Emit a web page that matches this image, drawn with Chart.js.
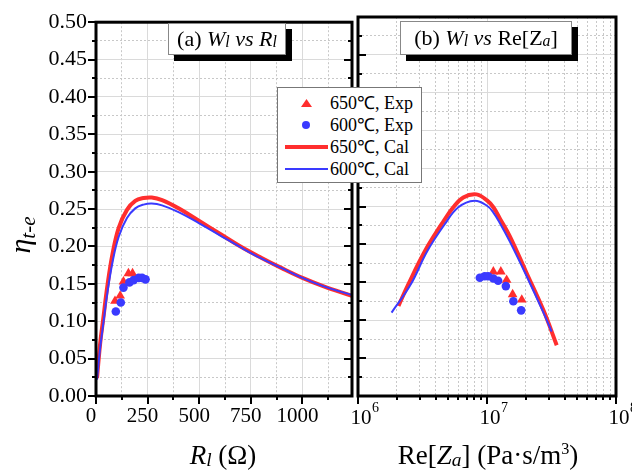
<!DOCTYPE html>
<html>
<head>
<meta charset="utf-8">
<script src="https://cdn.jsdelivr.net/npm/chart.js@4"></script>
<style>
  html, body { margin: 0; padding: 0; background: #fff; }
  #wrap { position: relative; width: 632px; height: 473px; overflow: hidden;
          font-family: "Liberation Serif", "Times New Roman", serif; color: #000; }
  canvas { position: absolute; left: 0; top: 0; }
  .tag { position: absolute; background: #fff; border: 1px solid #888; box-shadow: 6px 6px 0 #000;
         font-size: 22px; text-align: center; white-space: nowrap; }
  .sb { font-size: 0.72em; vertical-align: -0.08em; }
  .axt { position: absolute; font-size: 27px; line-height: 27px; text-align: center; white-space: nowrap; }
  .axt sup { font-size: 0.6em; line-height: 0; vertical-align: 0.6em; }
  #ylab { position: absolute; left: -10px; top: 215px; width: 60px; height: 40px; line-height: 40px;
          text-align: center; transform: rotate(-90deg); white-space: nowrap; }
  #legend { position: absolute; left: 277px; top: 87px; width: 145px; height: 96px; background: #fff;
            border: 1px solid #777; box-sizing: border-box; }
  #legend .row { position: absolute; left: 0; height: 22px; width: 100%; }
  #legend .lbl { position: absolute; left: 52px; top: 0; font-size: 18px; line-height: 22px; white-space: nowrap; }
  #legend .sym { position: absolute; }
</style>
</head>
<body>
<div id="wrap">
  <canvas id="panelA" width="632" height="473"></canvas>
  <canvas id="panelB" width="632" height="473"></canvas>

  <div class="tag" style="left:168px; top:23px; width:116px; height:30px; line-height:30px;">(a) <i>W<span class="sb">l</span></i> <i>vs</i> <i>R<span class="sb">l</span></i></div>
  <div class="tag" style="left:400px; top:21px; width:170px; height:32px; line-height:32px;">(b) <i>W<span class="sb">l</span></i> <i>vs</i> Re[Z<i class="sb">a</i>]</div>

  <div id="legend"></div>

  <div id="ylab"><i style="font-size:30px">η</i><i style="font-size:21px; vertical-align:-0.25em">t-e</i></div>
  <div class="axt" style="left:123px; top:442px; width:200px;"><i>R</i><i class="sb">l</i> (Ω)</div>
  <div class="axt" style="left:388px; top:442px; width:200px;">Re[<i>Z</i><i class="sb">a</i>] (Pa·s/m<sup>3</sup>)</div>
</div>

<script>
// efficiency eta_t-e against load resistance R_l (ohm)
const calR = [5, 20, 35, 55, 80, 110, 150, 190, 230, 270, 320, 400, 500, 600, 700, 800, 900, 1000, 1100, 1240];
const calEtaR650 = [0.024, 0.070, 0.103, 0.147, 0.190, 0.225, 0.249, 0.261, 0.2648, 0.2655, 0.262, 0.251, 0.234, 0.217, 0.200, 0.185, 0.171, 0.158, 0.147, 0.134];
const calEtaR600 = [0.022, 0.064, 0.096, 0.138, 0.179, 0.213, 0.238, 0.251, 0.256, 0.2575, 0.255, 0.246, 0.231, 0.215, 0.199, 0.184, 0.171, 0.158, 0.147, 0.135];

// efficiency against real part of acoustic impedance Re[Za] (Pa s/m^3)
const calZ650 = [2.06e6, 2.45e6, 3.3e6, 4.46e6, 5.48e6, 6.55e6, 8.3e6, 1.0e7, 1.12e7, 1.26e7, 1.5e7, 2.03e7, 2.74e7, 3.47e7];
const calEtaZ650 = [0.119, 0.147, 0.191, 0.227, 0.249, 0.262, 0.266, 0.258, 0.249, 0.234, 0.211, 0.162, 0.113, 0.067];
const calZ600 = [1.82e6, 2.56e6, 3.44e6, 4.72e6, 6.0e6, 8.0e6, 1.0e7, 1.12e7, 1.26e7, 1.5e7, 2.03e7, 2.74e7, 3.17e7];
const calEtaZ600 = [0.110, 0.147, 0.191, 0.227, 0.249, 0.2575, 0.251, 0.242, 0.228, 0.204, 0.158, 0.110, 0.085];

// measured points
const expR650 = [92, 117, 133, 157, 177];
const expZ650 = [1.86e7, 1.58e7, 1.42e7, 1.28e7, 1.12e7];
const expEta650 = [0.127, 0.134, 0.153, 0.164, 0.164];
const expR600 = [96, 120, 133, 162, 182, 207, 223, 240];
const expZ600 = [1.84e7, 1.60e7, 1.40e7, 1.22e7, 1.12e7, 1.02e7, 9.6e6, 8.8e6];
const expEta600 = [0.113, 0.125, 0.145, 0.152, 0.155, 0.158, 0.158, 0.156];

const seriesNames = ['650℃, Exp', '600℃, Exp', '650℃, Cal', '600℃, Cal'];
const RED = '#ff2e2e';
const BLUE = '#3a3aff';

// axis ticks
const etaTicks = [];
for (let k = 0; k <= 20; k++) etaTicks.push(k * 0.025);
const rTicks = [0, 125, 250, 375, 500, 625, 750, 875, 1000, 1125];
const zTicks = [];
for (const d of [1e6, 1e7]) for (let m = 1; m <= 9; m++) zTicks.push(m * d);
zTicks.push(1e8);

const SERIF = '"Liberation Serif", "Times New Roman", serif';
const isMajorEta = v => Math.round(v * 1000) % 50 === 0;
const isMajorR = v => v % 250 === 0;
const isMajorZ = v => Math.abs(Math.log10(v) - Math.round(Math.log10(v))) < 1e-9;

const pts = (xs, ys) => xs.map((x, i) => ({ x, y: ys[i] }));

function makeDatasets(xExp650, xExp600, xCal650, yCal650, xCal600, yCal600) {
  return [
    { label: seriesNames[1], data: pts(xExp600, expEta600), pointStyle: 'circle', pointRadius: 4.3,
      backgroundColor: BLUE, borderColor: BLUE, borderWidth: 0, showLine: false },
    { label: seriesNames[0], data: pts(xExp650, expEta650), pointStyle: 'triangle', pointRadius: 5.6,
      backgroundColor: RED, borderColor: RED, borderWidth: 0, showLine: false },
    { label: seriesNames[3], data: pts(xCal600, yCal600), showLine: true, pointRadius: 0,
      borderColor: BLUE, borderWidth: 2, tension: 0.4 },
    { label: seriesNames[2], data: pts(xCal650, yCal650), showLine: true, pointRadius: 0,
      borderColor: RED, borderWidth: 4, tension: 0.4 }
  ];
}

const gridOpts = isMajor => ({
  drawTicks: false,
  color: c => isMajor(c.tick.value) ? '#dadada' : '#c8c8c8',
  lineWidth: 1
});
const borderOpts = isMajor => ({
  display: false,
  dash: c => isMajor(c.tick.value) ? [] : [2, 2]
});

// black frame, hand-sized major/minor tick marks and 10^n labels
function frameAndTicks(cfg) {
  return {
    id: 'frameAndTicks',
    afterDraw(chart) {
      const { ctx, chartArea: a, scales } = chart;
      const xs = scales.x, ys = scales.y;
      ctx.save();
      ctx.strokeStyle = '#000';
      ctx.lineWidth = 2;
      ctx.beginPath();
      ys.ticks.forEach(t => {
        const py = Math.round(ys.getPixelForValue(t.value));
        const len = isMajorEta(t.value) ? 8 : 4;
        if (cfg.left === 'out') { ctx.moveTo(a.left - len, py); ctx.lineTo(a.left, py); }
        if (cfg.left === 'in') { ctx.moveTo(a.left, py); ctx.lineTo(a.left + len, py); }
        if (cfg.right === 'in') { ctx.moveTo(a.right - len, py); ctx.lineTo(a.right, py); }
      });
      xs.ticks.forEach(t => {
        const px = Math.round(xs.getPixelForValue(t.value));
        const len = cfg.isMajorX(t.value) ? 8 : 4;
        ctx.moveTo(px, a.bottom); ctx.lineTo(px, a.bottom + len);
      });
      ctx.stroke();
      ctx.lineWidth = 3;
      ctx.strokeRect(a.left, a.top, a.right - a.left, a.bottom - a.top);

      if (cfg.powerLabels) {
        ctx.fillStyle = '#000';
        xs.ticks.filter(t => isMajorZ(t.value)).forEach(t => {
          const px = xs.getPixelForValue(t.value) + 3;
          ctx.font = '21px ' + SERIF;
          ctx.textAlign = 'center';
          ctx.textBaseline = 'alphabetic';
          const w = ctx.measureText('10').width;
          ctx.fillText('10', px, 424);
          ctx.font = '14px ' + SERIF;
          ctx.textAlign = 'left';
          ctx.fillText(String(Math.round(Math.log10(t.value))), px + w / 2 + 0.5, 412);
        });
      }
      ctx.restore();
    }
  };
}

const common = {
  responsive: false,
  animation: false,
  plugins: { legend: { display: false }, tooltip: { enabled: false } }
};

new Chart(document.getElementById('panelA'), {
  type: 'scatter',
  data: { datasets: makeDatasets(expR650, expR600, calR, calEtaR650, calR, calEtaR600) },
  options: {
    ...common,
    layout: { padding: { left: 0, top: 17, right: 280, bottom: 0 } },
    scales: {
      x: {
        type: 'linear', min: 0, max: 1240,
        afterBuildTicks: s => { s.ticks = rTicks.map(v => ({ value: v })); },
        afterFit: s => { s.height = 77; },
        grid: gridOpts(isMajorR), border: borderOpts(isMajorR),
        ticks: {
          autoSkip: false, maxRotation: 0, padding: 8, labelOffset: -5, color: '#000',
          font: { family: SERIF, size: 21 },
          callback: v => isMajorR(v) ? String(v) : ''
        }
      },
      y: {
        min: 0, max: 0.5,
        afterBuildTicks: s => { s.ticks = etaTicks.map(v => ({ value: v })); },
        afterFit: s => { s.width = 96; },
        grid: gridOpts(isMajorEta), border: borderOpts(isMajorEta),
        ticks: {
          autoSkip: false, padding: 9, color: '#000',
          font: { family: SERIF, size: 22 },
          callback: v => isMajorEta(v) ? v.toFixed(2) : ''
        }
      }
    }
  },
  plugins: [frameAndTicks({ left: 'out', right: 'in', isMajorX: isMajorR })]
});

new Chart(document.getElementById('panelB'), {
  type: 'scatter',
  data: { datasets: makeDatasets(expZ650, expZ600, calZ650, calEtaZ650, calZ600, calEtaZ600) },
  options: {
    ...common,
    layout: { padding: { left: 0, top: 17, right: 16, bottom: 0 } },
    scales: {
      x: {
        type: 'logarithmic', min: 1e6, max: 1e8,
        afterBuildTicks: s => { s.ticks = zTicks.map(v => ({ value: v })); },
        afterFit: s => { s.height = 77; },
        grid: gridOpts(isMajorZ), border: borderOpts(isMajorZ),
        ticks: { display: false, autoSkip: false }
      },
      y: {
        min: 0, max: 0.5,
        afterBuildTicks: s => { s.ticks = etaTicks.map(v => ({ value: v })); },
        afterFit: s => { s.width = 358; },
        grid: gridOpts(isMajorEta), border: borderOpts(isMajorEta),
        ticks: { display: false, autoSkip: false }
      }
    }
  },
  plugins: [frameAndTicks({ left: 'in', isMajorX: isMajorZ, powerLabels: true })]
});

// legend shared by both panels
const legend = document.getElementById('legend');
const symbols = [
  { color: RED, css: 'left:23px; top:7px; width:11px; height:8px; clip-path:polygon(50% 0,100% 100%,0 100%);' },
  { color: BLUE, css: 'left:24px; top:7px; width:8px; height:8px; border-radius:50%;' },
  { color: RED, css: 'left:7px; top:9px; width:43px; height:4px;' },
  { color: BLUE, css: 'left:7px; top:10px; width:43px; height:2px;' }
];
seriesNames.forEach((name, i) => {
  const row = document.createElement('div');
  row.className = 'row';
  row.style.top = (4 + i * 22) + 'px';
  const sym = document.createElement('span');
  sym.className = 'sym';
  sym.style.cssText = symbols[i].css + 'background:' + symbols[i].color + ';';
  const lbl = document.createElement('span');
  lbl.className = 'lbl';
  lbl.textContent = name;
  row.appendChild(sym);
  row.appendChild(lbl);
  legend.appendChild(row);
});
</script>
</body>
</html>
